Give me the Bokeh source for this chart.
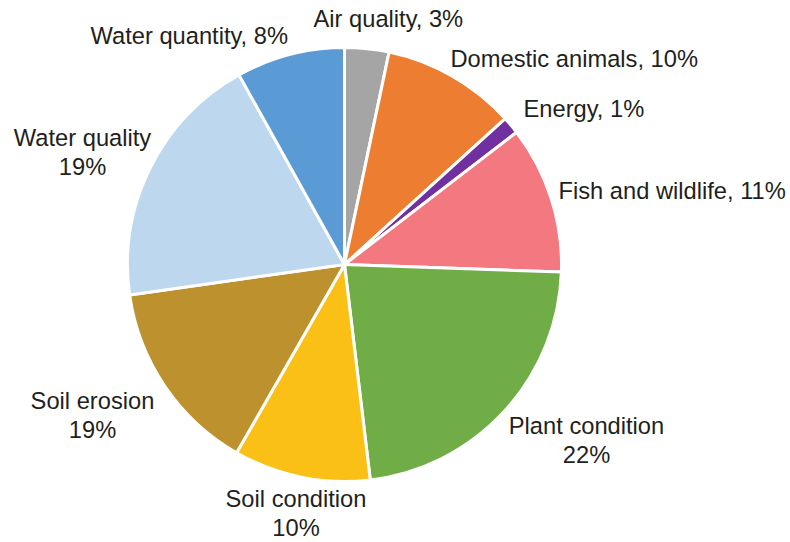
import numpy as np
from bokeh.plotting import figure
from bokeh.models import Range1d, ColumnDataSource
from bokeh.core.properties import value
from bokeh.embed import file_html
from bokeh.resources import INLINE

# ---- data ----
categories = ["Air quality", "Domestic animals", "Energy", "Fish and wildlife",
              "Plant condition", "Soil condition", "Soil erosion",
              "Water quality", "Water quantity"]
pct_labels = ["3%", "10%", "1%", "11%", "22%", "10%", "19%", "19%", "8%"]
shares = [3.3, 10.0, 1.3, 11.0, 22.6, 10.2, 14.5, 19.2, 8.1]
colors = ["#A5A5A5", "#ED7D31", "#7030A0", "#F4787F", "#70AD47",
          "#FBC015", "#BE912F", "#BDD7EE", "#5B9BD5"]

# ---- layout (picture pixel coordinates) ----
CX, CY, R = 344, 264, 217
FONT = "Liberation Sans"
FS = "23.7px"
TXT = "#231F20"
DY = 9.5  # renderer baseline correction

W, H = 790, 542
p = figure(width=W, height=H, output_backend="svg", toolbar_location=None,
           x_range=Range1d(0, W), y_range=Range1d(-H, 0),
           min_border=0)
p.axis.visible = False
p.grid.visible = False
p.outline_line_color = None
p.background_fill_color = "white"
p.border_fill_color = "white"

vals = np.array(shares, dtype=float)
frac = vals / vals.sum()
cum = np.concatenate([[0], np.cumsum(frac)]) * 2 * np.pi
start = np.pi / 2 - cum[:-1]
end = np.pi / 2 - cum[1:]

src = ColumnDataSource(dict(start=start, end=end, color=colors, name=categories))
p.wedge(x=CX, y=-CY, radius=R, start_angle="start", end_angle="end",
        direction="clock", fill_color="color", line_color="white",
        line_width=3, source=src)

# single-line labels: (category index, left x, baseline y)
single = [(0, 313, 28), (1, 450, 68), (2, 523, 118), (3, 558, 200), (8, 90, 45)]
for i, x, y in single:
    p.text(x=[x], y=[-(y - DY)], text=[f"{categories[i]}, {pct_labels[i]}"],
           text_font=value(FONT), text_font_size=FS, text_color=TXT,
           text_align="left", text_baseline="alphabetic")

# two-line labels: (category index, center x, baseline line1, baseline line2)
double = [(4, 586, 435, 464), (5, 295.5, 508, 537), (6, 92, 410, 439), (7, 82, 146.5, 176)]
for i, x, y1, y2 in double:
    p.text(x=[x], y=[-(y1 - DY)], text=[categories[i]],
           text_font=value(FONT), text_font_size=FS, text_color=TXT,
           text_align="center", text_baseline="alphabetic")
    p.text(x=[x], y=[-(y2 - DY)], text=[pct_labels[i]],
           text_font=value(FONT), text_font_size=FS, text_color=TXT,
           text_align="center", text_baseline="alphabetic")

open("out.html", "w").write(file_html(p, INLINE))
